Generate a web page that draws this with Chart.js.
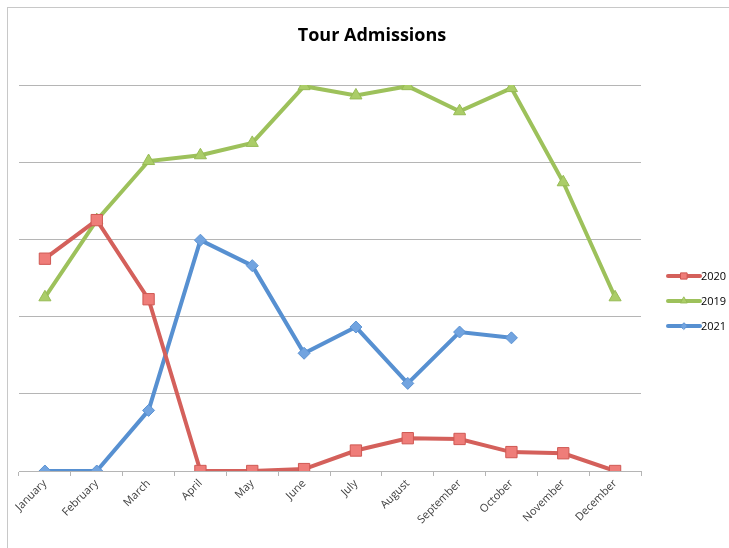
<!DOCTYPE html>
<html>
<head>
<meta charset="utf-8">
<script src="https://cdn.jsdelivr.net/npm/chart.js@4.4.1/dist/chart.umd.min.js"></script>
<style>
    html, body { margin: 0; padding: 0; background: #ffffff; }
    #wrap { position: relative; width: 729px; height: 548px; }
    #frame { position: absolute; left: 7px; top: 7px; right: 0; bottom: 0; border-left: 1px solid #c8c8c8; border-top: 1px solid #c8c8c8; pointer-events: none; }
</style>
</head>
<body>
<div id="wrap">
    <canvas id="chart" width="729" height="548"></canvas>
    <div id="frame"></div>
</div>
<script>
const months = ['January', 'February', 'March', 'April', 'May', 'June', 'July', 'August', 'September', 'October', 'November', 'December'];
const admissions2020 = [55, 65, 44.5, 0, 0, 0.5, 5.3, 8.5, 8.3, 4.9, 4.6, 0];
const admissions2019 = [45, 65, 80.3, 81.8, 85, 99.7, 97.3, 99.7, 93.2, 99.2, 74.8, 45];
const admissions2021 = [0, 0, 15.7, 59.8, 53.2, 30.5, 37.3, 22.7, 36, 34.5, null, null];
const yTicks = [0, 20, 40, 60, 80, 100];

// legend drawn as line + marker, like the spreadsheet legend
const sideLegend = {
    id: 'sideLegend',
    afterDraw(chart) {
        const ctx = chart.ctx;
        const area = chart.chartArea;
        chart.data.datasets.forEach((ds, i) => {
            const x0 = area.right + 27;
            const y = area.top + 191 + i * 25;
            ctx.save();
            ctx.strokeStyle = ds.borderColor;
            ctx.lineWidth = 4;
            ctx.lineCap = 'round';
            ctx.beginPath();
            ctx.moveTo(x0, y);
            ctx.lineTo(x0 + 32, y);
            ctx.stroke();
            ctx.fillStyle = ds.pointBackgroundColor;
            ctx.strokeStyle = ds.pointBorderColor;
            ctx.lineWidth = 1;
            Chart.helpers.drawPoint(ctx, {
                pointStyle: ds.pointStyle,
                radius: ds.pointRadius * 0.55,
                borderWidth: 1
            }, x0 + 16, y);
            ctx.fillStyle = '#000000';
            ctx.font = '11px "Open Sans"';
            ctx.textBaseline = 'middle';
            ctx.textAlign = 'left';
            ctx.fillText(ds.label, x0 + 33, y + 1);
            ctx.restore();
        });
    }
};

const ctx = document.getElementById('chart').getContext('2d');
new Chart(ctx, {
    type: 'line',
    data: {
        labels: months,
        datasets: [
            {
                label: '2020',
                data: admissions2020,
                borderColor: '#d4605b',
                borderWidth: 4,
                pointStyle: 'rect',
                pointRadius: 8,
                pointBackgroundColor: '#ef7d79',
                pointBorderColor: '#cf5853',
                pointBorderWidth: 1,
                tension: 0
            },
            {
                label: '2019',
                data: admissions2019,
                borderColor: '#9dc15b',
                borderWidth: 4,
                pointStyle: 'triangle',
                pointRadius: 7,
                pointBackgroundColor: '#abcd68',
                pointBorderColor: '#97bb55',
                pointBorderWidth: 1,
                tension: 0
            },
            {
                label: '2021',
                data: admissions2021,
                borderColor: '#5790d1',
                borderWidth: 4,
                pointStyle: 'rectRot',
                pointRadius: 6,
                pointBackgroundColor: '#72a4e0',
                pointBorderColor: '#5b92d2',
                pointBorderWidth: 1,
                tension: 0,
                spanGaps: false
            }
        ]
    },
    options: {
        responsive: false,
        animation: false,
        layout: { padding: { left: 15, right: 0, top: 0, bottom: 0 } },
        plugins: {
            legend: { display: false },
            tooltip: { enabled: false },
            title: {
                display: true,
                text: 'Tour Admissions',
                color: '#000000',
                font: { family: '"Open Sans"', size: 18, weight: 'bold' },
                padding: { top: 25, bottom: 38.4 }
            }
        },
        scales: {
            x: {
                offset: true,
                grid: { drawOnChartArea: false, drawTicks: true, tickLength: 5, offset: true, color: '#b5b5b5' },
                border: { display: true, color: '#b5b5b5', width: 1 },
                ticks: {
                    color: '#404040',
                    font: { family: '"Open Sans"', size: 11 },
                    maxRotation: 45,
                    minRotation: 45,
                    padding: 1
                },
                afterFit: s => { s.height = 77; }
            },
            y: {
                min: yTicks[0],
                max: yTicks[yTicks.length - 1],
                afterBuildTicks: s => { s.ticks = yTicks.map(v => ({ value: v })); },
                grid: { color: '#b5b5b5', drawTicks: false },
                border: { display: false },
                ticks: { display: false },
                afterFit: s => { s.width = 4; }
            },
            legendSpace: {
                type: 'linear',
                position: 'right',
                display: true,
                grid: { display: false },
                border: { display: false },
                ticks: { display: false },
                afterFit: s => { s.width = 88; }
            }
        }
    },
    plugins: [sideLegend]
});
</script>
</body>
</html>
